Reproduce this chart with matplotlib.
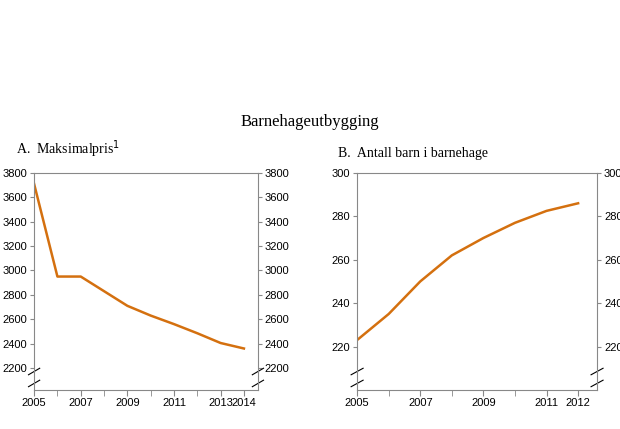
import matplotlib
matplotlib.use('Agg')
import matplotlib.pyplot as plt

ORANGE = '#d4700f'
GREY = '#888888'

years_a = [2005, 2006, 2007, 2008, 2009, 2010, 2011, 2012, 2013, 2014]
price_a = [3710, 2950, 2950, 2830, 2710, 2630, 2560, 2485, 2405, 2360]
labels_a = [2005, 2007, 2009, 2011, 2013, 2014]
yticks_a = [2200, 2400, 2600, 2800, 3000, 3200, 3400, 3600, 3800]

years_b = [2005, 2006, 2007, 2008, 2009, 2010, 2011, 2012]
kids_b = [223, 235, 250, 262, 270, 277, 282.5, 286]
labels_b = [2005, 2007, 2009, 2011, 2012]
yticks_b = [220, 240, 260, 280, 300]

plt.rcParams['font.family'] = 'Liberation Sans'
fig = plt.figure(figsize=(6.2, 4.29), dpi=100)
fig.text(0.5, 0.715, 'Barnehageutbygging', ha='center', va='center',
         fontsize=12, family='Liberation Serif')


def panel(rect, x, y, labels, yticks, ylim, xmax, title, brk):
    ax = fig.add_axes(rect)
    ax.plot(x, y, color=ORANGE, lw=1.8)
    ax.set_xlim(x[0], xmax)
    ax.set_ylim(*ylim)
    ax.set_xticks(x, minor=True)
    ax.set_xticks(labels)
    ax.set_xticklabels([str(v) for v in labels])
    ax.set_yticks(yticks)
    ax.tick_params(axis='y', which='both', left=True, right=True,
                   labelleft=True, labelright=True, labelsize=8,
                   length=3, color=GREY, pad=2)
    ax.tick_params(axis='x', which='both', length=4, color=GREY,
                   labelsize=8, pad=2)
    for s in ax.spines.values():
        s.set_color(GREY)
        s.set_linewidth(0.8)
    # axis break marks on both spines
    for yb in brk:
        for xs in (0, 1):
            ax.plot([xs - 0.025, xs + 0.025], [yb - 0.015, yb + 0.015],
                    transform=ax.transAxes, color='black', lw=0.8,
                    clip_on=False)
    ax.text(-0.08, 1.06, title, transform=ax.transAxes, fontsize=10,
            family='Liberation Serif', va='bottom')
    return ax


panel([0.055, 0.091, 0.361, 0.506], years_a, price_a, labels_a, yticks_a,
      (2020, 3800), 2014.6, r'A.  Maksimalpris$^{\mathrm{1}}$', [0.085, 0.03])
panel([0.576, 0.091, 0.387, 0.506], years_b, kids_b, labels_b, yticks_b,
      (200, 300), 2012.6, 'B.  Antall barn i barnehage', [0.085, 0.03])

fig.savefig('out.png', dpi=100)
